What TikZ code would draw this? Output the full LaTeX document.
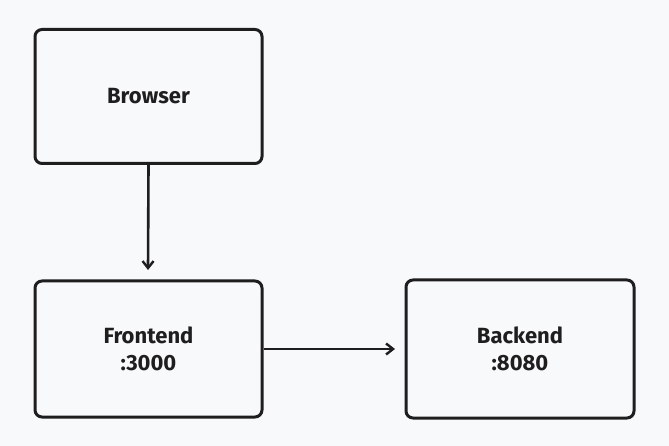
\documentclass[tikz,border=0pt]{standalone}
\usepackage{fontspec}
\setmainfont{Fira Sans}
\usetikzlibrary{arrows.meta}
\definecolor{bg}{HTML}{F8F9FB}
\definecolor{ink}{HTML}{1E1E1E}
\begin{document}
\begin{tikzpicture}[x=1pt,y=-1pt,
  box/.style={draw=ink, line width=3pt, rounded corners=7pt, fill=bg,
    minimum width=227pt, align=center, font=\fontsize{22}{27}\selectfont\bfseries, text=ink},
  conn/.style={draw=ink, line width=2.6pt, -{Straight Barb[length=7pt,width=11pt,line width=2.4pt]}}]
\fill[bg] (0,0) rectangle (669,446);
\useasboundingbox (0,0) rectangle (669,446);
\node[box, minimum height=134pt] (browser) at (148.5,96.5) {Browser};
\node[box, minimum height=136pt] (frontend) at (148.5,349) {Frontend\\:3000};
\node[box, minimum width=228pt, minimum height=138pt] (backend) at (520,349) {Backend\\:8080};
\coordinate (a2) at (148,270);
\draw[conn] (browser.south) -- (a2);
\coordinate (b2) at (395,349);
\draw[conn] (frontend.east) -- (b2);
\end{tikzpicture}
\end{document}
